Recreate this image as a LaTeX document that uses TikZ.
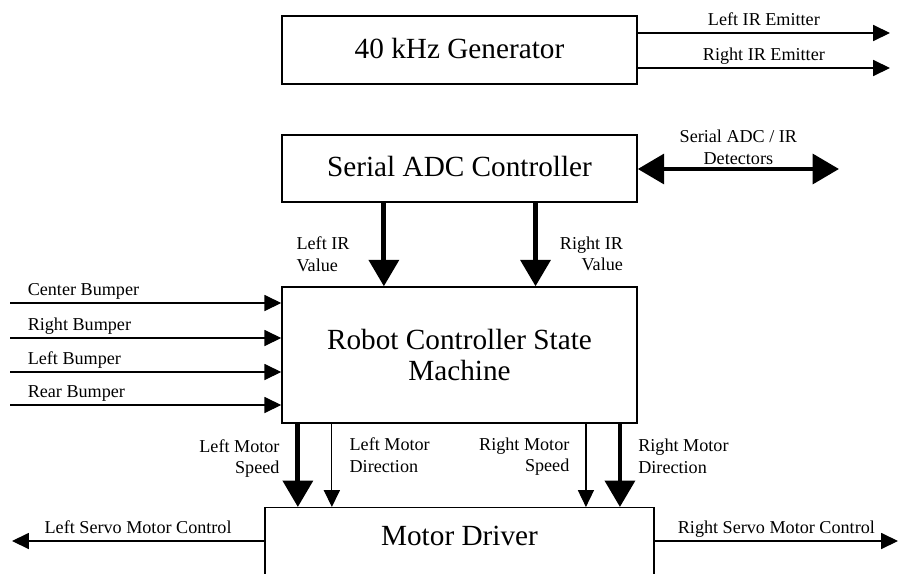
\documentclass[tikz,border=0pt]{standalone}
\usepackage{fontspec}
\setmainfont{Liberation Serif}
\usetikzlibrary{arrows.meta,positioning}

\tikzset{
  smallhead/.tip={Triangle[length=0.42cm,width=0.4cm]},
  bighead/.tip={Triangle[length=0.66cm,width=0.74cm]},
}

\begin{document}
\begin{tikzpicture}[
    x=0.025cm, y=-0.025cm,
    block/.style={draw, line width=1pt, minimum width=8.875cm, inner sep=0pt,
      align=center, font=\fontsize{20.8}{22}\selectfont},
    sig/.style={-smallhead, line width=0.8pt},
    bus/.style={-bighead, line width=3.4pt},
    lbl/.style={inner sep=0pt, font=\fontsize{12.9}{15.5}\selectfont},
    over/.style={lbl, anchor=base, yshift=0.19cm}
  ]
  \path[use as bounding box, clip] (0,0) rectangle (902,573);
  \fill[white] (0,0) rectangle (902,573);

  % blocks
  \node (gen)  [block, minimum height=1.7cm, text depth=0.3em] at (459.5,50) {40 kHz Generator};
  \node (adc)  [block, minimum height=1.675cm, text depth=0.3em] at (459.5,168.5) {Serial ADC Controller};
  \node (ctrl) [block, minimum height=3.4cm] at (459.5,355) {Robot Controller State\\Machine};
  \node (drv)  [block, minimum width=9.725cm, anchor=north, text height=0.94cm, text depth=2cm] at (459.5,507) {Motor Driver};

  % emitters
  \coordinate (emL) at (890,33);
  \coordinate (emR) at (890,68);
  \draw[sig] (gen.east |- emL) -- node[over] {Left IR Emitter} (emL);
  \draw[sig] (gen.east |- emR) -- node[over] {Right IR Emitter} (emR);

  % detectors
  \coordinate (det) at (839,169);
  \draw[bus, bighead-bighead] (adc.east |- det) -- node[lbl, above=0.05cm, align=center] {Serial ADC / IR\\Detectors} (det);

  \draw[bus] ([xshift=-1.89cm]adc.south) -- node[lbl, anchor=north east, align=left, xshift=-0.8cm, yshift=0.26cm] {Left IR\\Value} ([xshift=-1.89cm]ctrl.north);
  \draw[bus] ([xshift=1.9cm]adc.south) -- node[lbl, anchor=north west, align=right, xshift=0.55cm, yshift=0.26cm] {Right IR\\Value} ([xshift=1.9cm]ctrl.north);

  % bumpers
  \foreach \yy/\txt in {303/Center Bumper, 338/Right Bumper, 372/Left Bumper, 405/Rear Bumper}{
    \coordinate (bmp\yy) at (10,\yy);
    \draw[sig] (bmp\yy) -- node[lbl, pos=0, anchor=south west, xshift=0.43cm, yshift=0.08cm] {\txt} (bmp\yy -| ctrl.west);
  }

  % motor signals
  \draw[bus] ([xshift=-4.04cm]ctrl.south) -- node[lbl, anchor=north east, align=right, xshift=-0.4cm, yshift=0.71cm] {Left Motor\\Speed} ([xshift=-4.04cm]drv.north);
  \draw[sig] ([xshift=-3.19cm]ctrl.south) -- node[lbl, anchor=north west, align=left, xshift=0.43cm, yshift=0.71cm] {Left Motor\\Direction} ([xshift=-3.19cm]drv.north);
  \draw[sig] ([xshift=3.16cm]ctrl.south) -- node[lbl, anchor=north east, align=right, xshift=-0.4cm, yshift=0.71cm] {Right Motor\\Speed} ([xshift=3.16cm]drv.north);
  \draw[bus] ([xshift=4.01cm]ctrl.south) -- node[lbl, anchor=north west, align=left, xshift=0.4cm, yshift=0.71cm] {Right Motor\\Direction} ([xshift=4.01cm]drv.north);

  % servos
  \coordinate (srvL) at (12,541);
  \coordinate (srvR) at (898,541);
  \draw[sig] (srvL -| drv.west) -- node[over] {Left Servo Motor Control} (srvL);
  \draw[sig] (srvR -| drv.east) -- node[over] {Right Servo Motor Control} (srvR);
\end{tikzpicture}
\end{document}
